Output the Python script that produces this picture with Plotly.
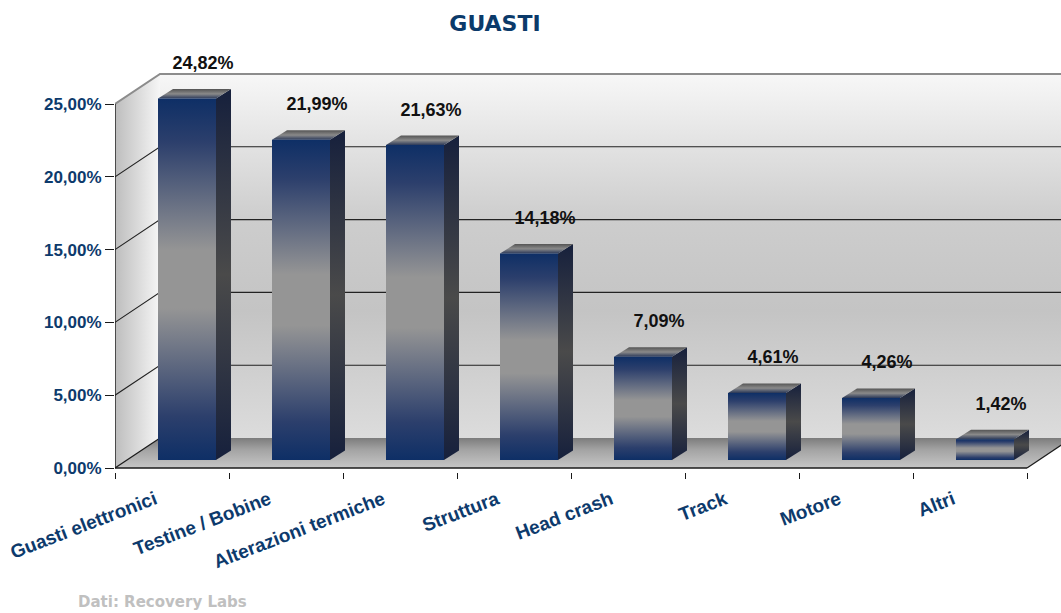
import plotly.graph_objects as go

# ---- data ----
CATEGORIES = ["Guasti elettronici", "Testine / Bobine", "Alterazioni termiche", "Struttura",
              "Head crash", "Track", "Motore", "Altri"]
VALUES = [24.82, 21.99, 21.63, 14.18, 7.09, 4.61, 4.26, 1.42]
Y_TICKS = [0, 5, 10, 15, 20, 25]
Y_TICK_TEXT = ["0,00%", "5,00%", "10,00%", "15,00%", "20,00%", "25,00%"]
TITLE = "GUASTI"
SOURCE = "Dati: Recovery Labs"

# ---- geometry (pixel scales) ----
W, H = 1061, 613
L_M, R_M, T_M, B_M = 115, 0, 40, 141
PX_CAT = 114.0     # pixels per category
PX_PCT = 14.56     # pixels per percent
plot_w = W - L_M - R_M
plot_h = H - T_M - B_M


def fx(p):
    return p / PX_CAT


def fy(p):
    return p / PX_PCT


N = len(CATEGORIES)
YMAX = 25
DX, DY = fx(45), fy(30)          # wall depth
XMAX = plot_w / PX_CAT
Y_LO = -fy(4)
Y_HI = Y_LO + plot_h / PX_PCT

NAVY = "#0e2f66"
TXT_NAVY = "#0d3a6c"
DARK = "#1a1a1a"

fig = go.Figure()


def poly(xs, ys, colorscale, gtype="vertical"):
    fig.add_trace(go.Scatter(
        x=list(xs) + [xs[0]], y=list(ys) + [ys[0]], mode="lines", fill="toself",
        line=dict(width=0, color="rgba(0,0,0,0)"),
        fillgradient=dict(type=gtype, colorscale=colorscale),
        hoverinfo="skip", showlegend=False))


def seg(xs, ys, color=DARK, width=1.2):
    fig.add_trace(go.Scatter(x=xs, y=ys, mode="lines", line=dict(color=color, width=width),
                             hoverinfo="skip", showlegend=False))


# back wall
poly([DX, N + DX + 1, N + DX + 1, DX], [DY, DY, YMAX + DY, YMAX + DY],
     [[0, "#dcdcdc"], [0.35, "#c4c4c4"], [0.6, "#cdcdcd"], [1, "#f7f7f7"]])
# side wall
poly([0, DX, DX, 0], [0, DY, YMAX + DY, YMAX],
     [[0, "#bdbdbd"], [1, "#f6f6f6"]], gtype="horizontal")
# floor
poly([0, N, N + DX, DX], [0, 0, DY, DY],
     [[0, "#c6c6c6"], [0.6, "#a4a4a4"], [1, "#7c7c7c"]])

# gridlines on side + back wall
for g in Y_TICKS[1:-1]:
    seg([0, DX, N + DX + 1], [g, g + DY, g + DY], color="#222222", width=1.1)
seg([0, DX, N + DX + 1], [YMAX, YMAX + DY, YMAX + DY], color="#8c8c8c", width=2)
# floor edges and axes
seg([0, DX], [0, DY], color=DARK, width=1.2)
seg([N, N + DX], [0, DY], color=DARK, width=1.2)
seg([0, N], [0, 0], color=DARK, width=1.6)
seg([0, 0], [0, YMAX], color=DARK, width=1.4)

# bars
BAR_OFF, BAR_W = fx(43), fx(58)
BDX, BDY = fx(15), fy(9.5)
BASE = fy(8)
front_cs = [[0, NAVY], [0.12, "#2c3f6c"], [0.42, "#959595"], [0.58, "#959595"],
            [0.88, "#2c3f6c"], [1, NAVY]]
side_cs = [[0, "#16203c"], [0.5, "#4a4a4a"], [1, "#16203c"]]
top_cs = [[0, "#2a3858"], [0.5, "#8a8a8a"], [1, "#555555"]]
for i, v in enumerate(VALUES):
    xl = i + BAR_OFF
    xr = xl + BAR_W
    y0, y1 = BASE, BASE + v
    poly([xr, xr + BDX, xr + BDX, xr], [y0, y0 + BDY, y1 + BDY, y1], side_cs)
    poly([xl, xr, xr + BDX, xl + BDX], [y1, y1, y1 + BDY, y1 + BDY], top_cs)
    poly([xl, xr, xr, xl], [y0, y0, y1, y1], front_cs)

# data labels
fig.add_trace(go.Scatter(
    x=[i + fx(88) for i in range(N)],
    y=[BASE + v + fy(34) for v in VALUES],
    mode="text",
    text=[("%.2f" % v).replace(".", ",") + "%" for v in VALUES],
    textposition="middle center",
    textfont=dict(family="Liberation Sans", size=18, color="#111111", weight="bold"),
    hoverinfo="skip", showlegend=False, cliponaxis=False))

fig.update_layout(
    width=W, height=H,
    margin=dict(l=L_M, r=R_M, t=T_M, b=B_M),
    paper_bgcolor="white", plot_bgcolor="white",
    showlegend=False, hovermode=False,
    title=dict(text=TITLE, x=495 / W, xref="container", y=1 - 23 / H, yref="container",
               xanchor="center", yanchor="middle",
               font=dict(family="DejaVu Sans", size=22, color="#0b3a6a", weight="bold")),
    xaxis=dict(range=[0, XMAX], showgrid=False, zeroline=False, showline=False,
               tickmode="array", tickvals=[i + 0.5 - fx(17) for i in range(N)],
               ticktext=CATEGORIES, tickangle=-21, ticks="", ticklabelstandoff=12,
               tickfont=dict(family="Liberation Sans", size=19, color=TXT_NAVY, weight="bold"),
               minor=dict(tickmode="array", tickvals=list(range(N + 1)), ticks="outside",
                          ticklen=6, tickcolor=DARK, tickwidth=1.2, showgrid=False)),
    yaxis=dict(range=[Y_LO, Y_HI], showgrid=False, zeroline=False, showline=False,
               tickmode="array", tickvals=Y_TICKS, ticktext=Y_TICK_TEXT,
               ticks="outside", ticklen=9, tickcolor=DARK, tickwidth=1.2,
               tickfont=dict(family="Liberation Sans", size=17, color=TXT_NAVY, weight="bold")),
    annotations=[dict(text=SOURCE, xref="paper", yref="paper",
                      x=(76 - L_M) / plot_w, y=(H - B_M - 602) / plot_h,
                      xanchor="left", yanchor="middle", showarrow=False,
                      font=dict(family="DejaVu Sans", size=15, color="#c0c0c0", weight="bold"))],
)

fig.write_html("out.html")
